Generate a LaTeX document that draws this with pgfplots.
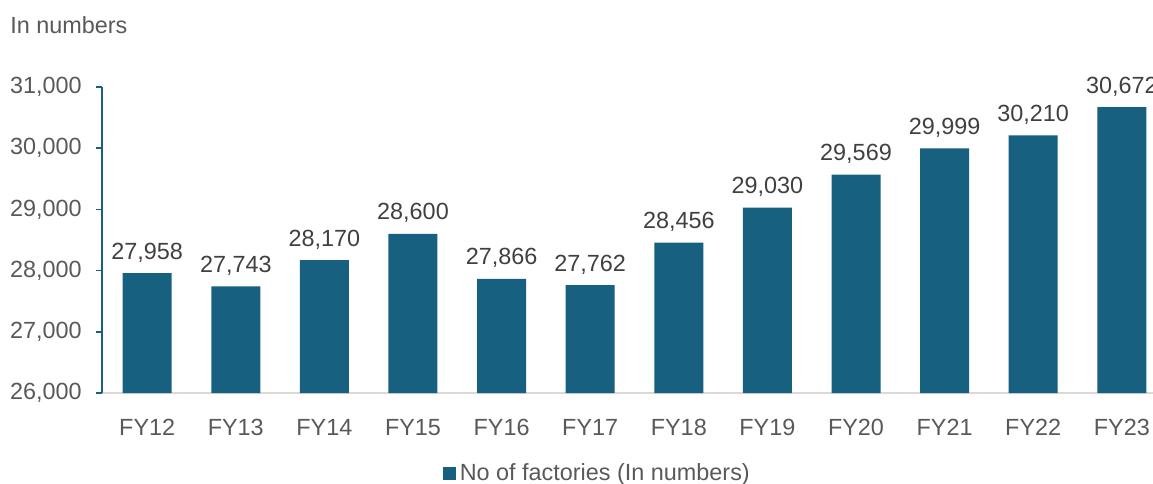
\documentclass[border=0pt]{standalone}
\usepackage{fontspec}
\setmainfont{Liberation Sans}
\usepackage{pgfplots}
\pgfplotsset{compat=1.18}
\definecolor{barc}{HTML}{17607F}
\definecolor{tickc}{HTML}{595959}
\definecolor{labc}{HTML}{404040}
\definecolor{basec}{HTML}{D9D9D9}
\newcommand\cf{\fontsize{11.7}{14}\selectfont}
\begin{document}
\begin{tikzpicture}
\begin{axis}[
    at={(51pt,45pt)}, anchor=south west,
    scale only axis,
    width=532.5pt, height=153pt,
    ybar, bar width=24.5pt,
    xmin=-0.51, xmax=11.51,
    ymin=26000, ymax=31000,
    clip mode=individual,
    axis lines*=left,
    x axis line style={draw=basec, line width=1pt},
    y axis line style={draw=barc, line width=0.75pt},
    xtick=data,
    xticklabels={FY12,FY13,FY14,FY15,FY16,FY17,FY18,FY19,FY20,FY21,FY22,FY23},
    x tick style={draw=none},
    ytick={26000,27000,28000,29000,30000,31000},
    y tick style={draw=barc, line width=0.75pt},
    major tick length=3pt, tick align=outside,
    scaled y ticks=false,
    /pgf/number format/assume math mode=true,
    /pgf/number format/1000 sep={,},
    tick label style={font=\cf, text=tickc},
    yticklabel style={inner sep=0pt, xshift=-7pt},
    xticklabel style={anchor=north, inner sep=0pt, yshift=-10pt},
    nodes near coords,
    every node near coord/.append style={font=\cf, text=labc, anchor=base, inner sep=0pt, yshift=7pt},
    legend style={at={(0.466,-0.262)}, anchor=center, draw=none, fill=none, font=\cf, text=tickc},
    legend image code/.code={\fill[barc] (0pt,-3.25pt) rectangle (6.5pt,3.25pt);},
]
\addplot[fill=barc, draw=none] coordinates {
    (0,27958) (1,27743) (2,28170) (3,28600) (4,27866) (5,27762)
    (6,28456) (7,29030) (8,29569) (9,29999) (10,30210) (11,30672)
};
\addlegendentry{No of factories (In numbers)}
\end{axis}
\node[anchor=base west, inner sep=0pt, font=\cf, text=tickc] at (5pt,224.5pt) {In numbers};
\pgfresetboundingbox
\useasboundingbox (0,0) rectangle (576.5pt,241.5pt);
\end{tikzpicture}
\end{document}
